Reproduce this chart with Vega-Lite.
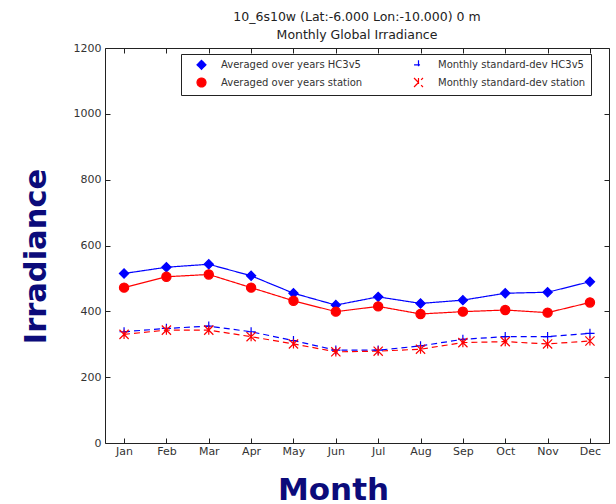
{
  "$schema": "https://vega.github.io/schema/vega-lite/v6.json",
  "autosize": "none",
  "width": 504,
  "height": 395,
  "padding": {"left": 105, "top": 48, "right": 7, "bottom": 61},
  "background": "white",
  "title": {
    "text": ["10_6s10w (Lat:-6.000 Lon:-10.000) 0 m", "Monthly Global Irradiance"],
    "font": "DejaVu Sans",
    "fontSize": 12.5,
    "fontWeight": "normal",
    "color": "#222",
    "anchor": "middle",
    "offset": 1,
    "lineHeight": 18
  },
  "config": {
    "view": {"stroke": "#222", "strokeWidth": 1},
    "axis": {"labelFont": "DejaVu Sans", "labelFontSize": 11, "labelColor": "#333", "domainColor": "#222", "tickColor": "#222", "grid": false}
  },
  "data": {"values": [
    {"month": "Jan", "series": "Averaged over years HC3v5", "value": 515},
    {"month": "Feb", "series": "Averaged over years HC3v5", "value": 534},
    {"month": "Mar", "series": "Averaged over years HC3v5", "value": 543},
    {"month": "Apr", "series": "Averaged over years HC3v5", "value": 508},
    {"month": "May", "series": "Averaged over years HC3v5", "value": 455},
    {"month": "Jun", "series": "Averaged over years HC3v5", "value": 419},
    {"month": "Jul", "series": "Averaged over years HC3v5", "value": 444},
    {"month": "Aug", "series": "Averaged over years HC3v5", "value": 424},
    {"month": "Sep", "series": "Averaged over years HC3v5", "value": 434},
    {"month": "Oct", "series": "Averaged over years HC3v5", "value": 455},
    {"month": "Nov", "series": "Averaged over years HC3v5", "value": 458},
    {"month": "Dec", "series": "Averaged over years HC3v5", "value": 490},
    {"month": "Jan", "series": "Averaged over years station", "value": 472},
    {"month": "Feb", "series": "Averaged over years station", "value": 505},
    {"month": "Mar", "series": "Averaged over years station", "value": 512},
    {"month": "Apr", "series": "Averaged over years station", "value": 472},
    {"month": "May", "series": "Averaged over years station", "value": 432},
    {"month": "Jun", "series": "Averaged over years station", "value": 399},
    {"month": "Jul", "series": "Averaged over years station", "value": 415},
    {"month": "Aug", "series": "Averaged over years station", "value": 392},
    {"month": "Sep", "series": "Averaged over years station", "value": 399},
    {"month": "Oct", "series": "Averaged over years station", "value": 404},
    {"month": "Nov", "series": "Averaged over years station", "value": 396},
    {"month": "Dec", "series": "Averaged over years station", "value": 427},
    {"month": "Jan", "series": "Monthly standard-dev HC3v5", "value": 338},
    {"month": "Feb", "series": "Monthly standard-dev HC3v5", "value": 348},
    {"month": "Mar", "series": "Monthly standard-dev HC3v5", "value": 355},
    {"month": "Apr", "series": "Monthly standard-dev HC3v5", "value": 338},
    {"month": "May", "series": "Monthly standard-dev HC3v5", "value": 311},
    {"month": "Jun", "series": "Monthly standard-dev HC3v5", "value": 282},
    {"month": "Jul", "series": "Monthly standard-dev HC3v5", "value": 282},
    {"month": "Aug", "series": "Monthly standard-dev HC3v5", "value": 295},
    {"month": "Sep", "series": "Monthly standard-dev HC3v5", "value": 315},
    {"month": "Oct", "series": "Monthly standard-dev HC3v5", "value": 323},
    {"month": "Nov", "series": "Monthly standard-dev HC3v5", "value": 323},
    {"month": "Dec", "series": "Monthly standard-dev HC3v5", "value": 333},
    {"month": "Jan", "series": "Monthly standard-dev station", "value": 330},
    {"month": "Feb", "series": "Monthly standard-dev station", "value": 343},
    {"month": "Mar", "series": "Monthly standard-dev station", "value": 343},
    {"month": "Apr", "series": "Monthly standard-dev station", "value": 323},
    {"month": "May", "series": "Monthly standard-dev station", "value": 301},
    {"month": "Jun", "series": "Monthly standard-dev station", "value": 277},
    {"month": "Jul", "series": "Monthly standard-dev station", "value": 279},
    {"month": "Aug", "series": "Monthly standard-dev station", "value": 285},
    {"month": "Sep", "series": "Monthly standard-dev station", "value": 305},
    {"month": "Oct", "series": "Monthly standard-dev station", "value": 308},
    {"month": "Nov", "series": "Monthly standard-dev station", "value": 301},
    {"month": "Dec", "series": "Monthly standard-dev station", "value": 310}
  ]},
  "resolve": {"axis": {"x": "independent", "y": "independent"}},
  "layer": [
    {
      "mark": {"type": "line", "strokeWidth": 1.2},
      "encoding": {
        "x": {"field": "month", "type": "ordinal", "sort": ["Jan","Feb","Mar","Apr","May","Jun","Jul","Aug","Sep","Oct","Nov","Dec"], "scale": {"type": "point", "padding": 0.45},
          "axis": {"orient": "bottom", "title": "Month", "titleFont": "DejaVu Sans", "titleFontSize": 31, "titleFontWeight": "bold", "titleColor": "#0b0b7a", "titlePadding": 19, "titleX": 228, "labelAngle": 0, "tickSize": -5, "labelPadding": 7, "domain": false}},
        "y": {"field": "value", "type": "quantitative", "scale": {"domain": [0, 1200], "nice": false},
          "axis": {"orient": "left", "title": "Irradiance", "titleFont": "DejaVu Sans", "titleFontSize": 30.5, "titleFontWeight": "bold", "titleColor": "#0b0b7a", "titlePadding": 22, "titleY": 208, "format": "d", "values": [0,200,400,600,800,1000,1200], "tickSize": -5, "labelPadding": 9, "domain": false}},
        "stroke": {"field": "series", "type": "nominal",
          "scale": {"domain": ["Averaged over years HC3v5", "Averaged over years station", "Monthly standard-dev HC3v5", "Monthly standard-dev station"], "range": ["#0000ff", "#ff0000", "#0000ff", "#ff0000"]},
          "legend": {"orient": "none", "legendX": 76, "legendY": 6, "columns": 2, "direction": "vertical", "title": null, "strokeColor": "#222", "fillColor": "white", "padding": 5, "labelFont": "DejaVu Sans", "labelFontSize": 10, "labelColor": "#333", "symbolSize": 80, "columnPadding": 40, "rowPadding": 3, "symbolOffset": 10, "labelOffset": 14, "symbolStrokeWidth": 1.2}},
        "strokeDash": {"field": "series", "type": "nominal",
          "scale": {"domain": ["Averaged over years HC3v5", "Averaged over years station", "Monthly standard-dev HC3v5", "Monthly standard-dev station"], "range": [[1,0],[1,0],[6,4],[6,4]]}}
      }
    },
    {
      "mark": {"type": "point", "size": 85, "strokeWidth": 1.2, "opacity": 1},
      "encoding": {
        "x": {"field": "month", "type": "ordinal", "sort": ["Jan","Feb","Mar","Apr","May","Jun","Jul","Aug","Sep","Oct","Nov","Dec"], "scale": {"type": "point", "padding": 0.45},
          "axis": {"orient": "top", "title": null, "labels": false, "tickSize": -5, "domain": false}},
        "y": {"field": "value", "type": "quantitative", "scale": {"domain": [0, 1200], "nice": false},
          "axis": {"orient": "right", "title": null, "labels": false, "values": [0,200,400,600,800,1000,1200], "tickSize": -5, "domain": false}},
        "stroke": {"field": "series", "type": "nominal",
          "scale": {"domain": ["Averaged over years HC3v5", "Averaged over years station", "Monthly standard-dev HC3v5", "Monthly standard-dev station"], "range": ["#0000ff", "#ff0000", "#0000ff", "#ff0000"]}},
        "fill": {"field": "series", "type": "nominal",
          "scale": {"domain": ["Averaged over years HC3v5", "Averaged over years station", "Monthly standard-dev HC3v5", "Monthly standard-dev station"], "range": ["#0000ff", "#ff0000", "transparent", "transparent"]}},
        "shape": {"field": "series", "type": "nominal",
          "scale": {"domain": ["Averaged over years HC3v5", "Averaged over years station", "Monthly standard-dev HC3v5", "Monthly standard-dev station"], "range": ["diamond", "circle", "M-1,0L1,0M0,-1L0,1", "M-1,-1L1,1M-1,1L1,-1M0,-1L0,1"]}}
      }
    }
  ]
}
